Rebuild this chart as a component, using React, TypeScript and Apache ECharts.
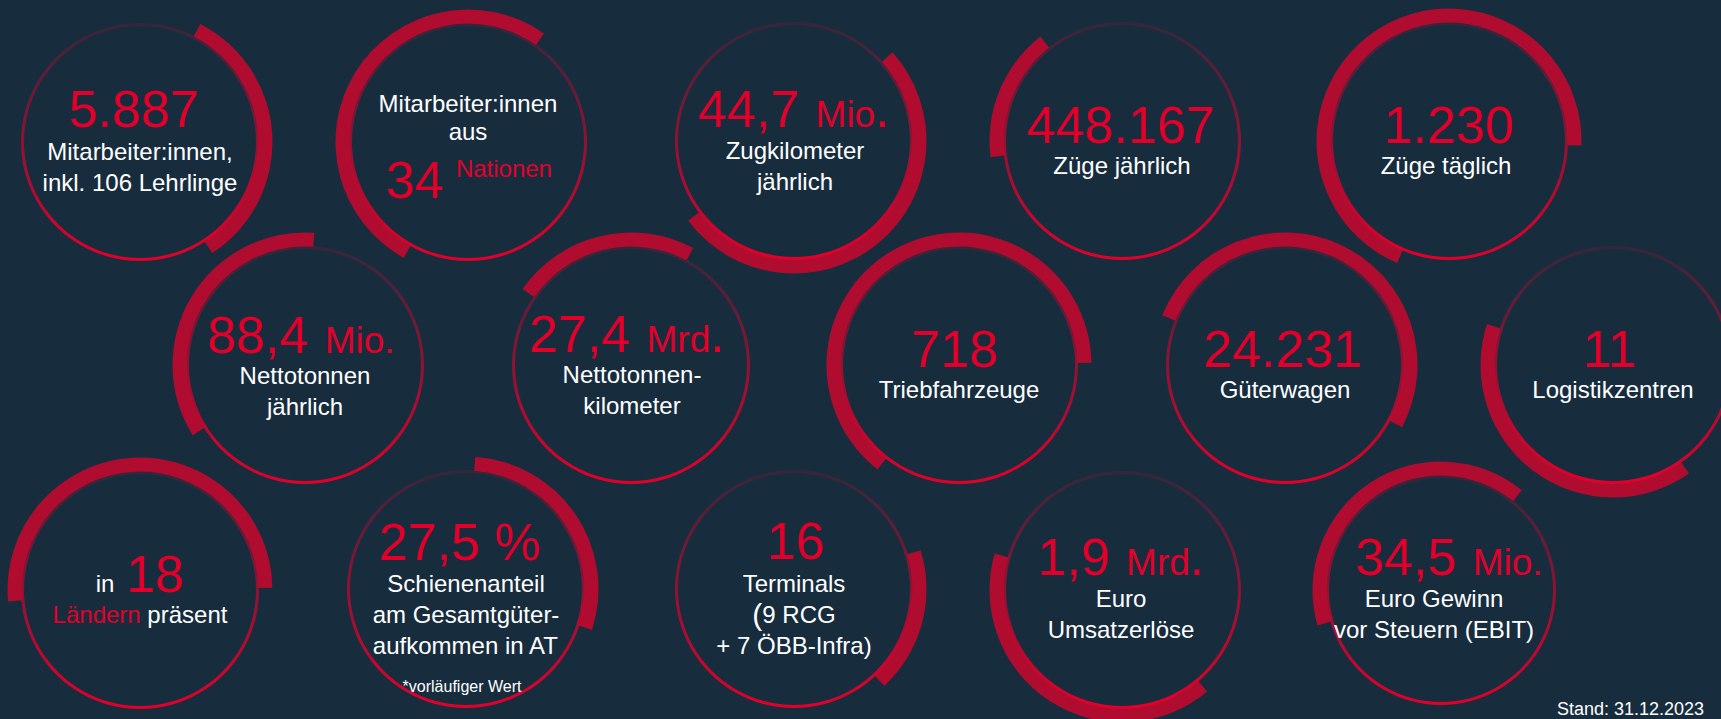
import React, { useEffect, useRef } from "react";
import * as echarts from "echarts";

// ---------- data ----------
const figures = ["5.887", "34", "44,7", "448.167", "1.230", "88,4", "27,4", "718", "24.231", "11", "18", "27,5 %", "16", "1,9", "34,5"];
const units = ["", "Nationen", "Mio.", "", "", "Mio.", "Mrd.", "", "", "", "", "", "", "Mrd.", "Mio."];
const captions: string[][] = [
  ["Mitarbeiter:innen,", "inkl. 106 Lehrlinge"],
  ["Mitarbeiter:innen", "aus"],
  ["Zugkilometer", "jährlich"],
  ["Züge jährlich"],
  ["Züge täglich"],
  ["Nettotonnen", "jährlich"],
  ["Nettotonnen-", "kilometer"],
  ["Triebfahrzeuge"],
  ["Güterwagen"],
  ["Logistikzentren"],
  ["in", "Ländern", "präsent"],
  ["Schienenanteil", "am Gesamtgüter-", "aufkommen in AT"],
  ["Terminals", "(9 RCG", "+ 7 ÖBB-Infra)"],
  ["Euro", "Umsatzerlöse"],
  ["Euro Gewinn", "vor Steuern (EBIT)"],
];
// thick arc: start angle (deg, clockwise from 12 o'clock) and span (deg)
const arcStart = [27, 209, 48, 263, 203, 238, 305, 218, 292, 145, 265, 4, 73, 140, 254];
const arcSpan = [120, 186, 185, 59, 249, 126, 83, 231, 186, 143, 184, 104, 64, 146, 145];
const footnote = "*vorläufiger Wert";
const standText = "Stand: 31.12.2023";

// ---------- layout / style ----------
const centers: [number, number][] = [
  [140, 142], [468, 142], [794, 141], [1122, 141], [1449, 141],
  [305, 365], [631, 365], [959, 365], [1285, 365], [1613, 365],
  [140, 590], [466, 589], [794, 589], [1122, 590], [1441, 590],
];
const radii = [118, 118, 118, 118, 118, 118, 118, 118, 118, 118, 118, 118, 118, 118, 114];
// [numberBaselineDy, numberDx, captionBaselineDy, captionDx, largeDot]
const textLayout: number[][] = [
  [-15, -6, 18, 0, 0],
  [0, 0, 0, 0, 0],
  [-14, 0, 18, 1, 1],
  [2, -1, 33, 0, 0],
  [2, 0, 33, -3, 0],
  [-12, -4, 19, 0, 0],
  [-13, -4, 18, 1, 1],
  [2, -4, 33, 0, 0],
  [2, -2, 33, 0, 0],
  [2, -3, 33, 0, 0],
  [0, 0, 0, 0, 0],
  [-29, -6, 3, 0, 0],
  [-30, 2, 2.5, 0, 0],
  [-15, -1, 17, -1, 1],
  [-15, 8, 17, -7, 0],
];

const BG = "#172D3E";
const RED = "#E2002B";
const ARC = "#B00C2F";
const WHITE = "#FFFFFF";
const FONT = '"Liberation Sans", Arial, Helvetica, sans-serif';
const CAP = 24;
const NUM = 52;
const UNIT = 37;
const STEP = 31;
const GAP = 16;

type Seg = { t: string; size: number; fill: string; base: number; gap?: number; weight?: string };

function makeMeasure() {
  const c = document.createElement("canvas");
  const ctx = c.getContext("2d")!;
  return (t: string, size: number, weight = "normal") => {
    ctx.font = `${weight} ${size}px ${FONT}`;
    return ctx.measureText(t).width;
  };
}

function lineEls(centerX: number, segs: Seg[], measure: (t: string, s: number, w?: string) => number) {
  const widths = segs.map((s) => measure(s.t, s.size, s.weight || "normal"));
  const total = widths.reduce((a, b) => a + b, 0) + segs.reduce((a, s) => a + (s.gap || 0), 0);
  let x = centerX - total / 2;
  return segs.map((s, i) => {
    x += s.gap || 0;
    const el = {
      type: "text",
      x,
      y: s.base - 0.3465 * s.size,
      z: 100,
      silent: true,
      style: {
        text: s.t,
        fill: s.fill,
        fontSize: s.size,
        fontFamily: FONT,
        fontWeight: s.weight || "normal",
        align: "left",
        textAlign: "left",
        verticalAlign: "middle",
        textVerticalAlign: "middle",
      },
    };
    x += widths[i];
    return el;
  });
}

function buildTexts() {
  const measure = makeMeasure();
  const els: any[] = [];
  figures.forEach((fig, i) => {
    const [cx, cy] = centers[i];
    const [nDy, nDx, cDy, cDx, bigDot] = textLayout[i];
    if (i === 1) {
      els.push(...lineEls(cx, [{ t: captions[i][0], size: CAP, fill: WHITE, base: cy - 30 }], measure));
      els.push(...lineEls(cx, [{ t: captions[i][1], size: CAP, fill: WHITE, base: cy - 2 }], measure));
      els.push(
        ...lineEls(cx + 1, [
          { t: fig, size: NUM, fill: RED, base: cy + 56 },
          { t: units[i], size: CAP, fill: RED, base: cy + 35, gap: 12 },
        ], measure)
      );
      return;
    }
    if (i === 10) {
      els.push(
        ...lineEls(cx, [
          { t: captions[i][0], size: CAP, fill: WHITE, base: cy + 2 },
          { t: fig, size: NUM, fill: RED, base: cy + 2, gap: 12 },
        ], measure)
      );
      els.push(
        ...lineEls(cx, [
          { t: captions[i][1], size: CAP, fill: RED, base: cy + 33 },
          { t: " " + captions[i][2], size: CAP, fill: WHITE, base: cy + 33 },
        ], measure)
      );
      return;
    }
    const segs: Seg[] = [{ t: fig, size: NUM, fill: RED, base: cy + nDy }];
    const u = units[i];
    if (u) {
      if (bigDot && u.endsWith(".")) {
        segs.push({ t: u.slice(0, -1), size: UNIT, fill: RED, base: cy + nDy, gap: GAP });
        segs.push({ t: ".", size: NUM, fill: RED, base: cy + nDy });
      } else {
        segs.push({ t: u, size: UNIT, fill: RED, base: cy + nDy, gap: GAP });
      }
    }
    els.push(...lineEls(cx + nDx, segs, measure));
    captions[i].forEach((c, k) => {
      const base = cy + cDy + k * STEP;
      if (c.startsWith("(")) {
        els.push(
          ...lineEls(cx + cDx, [
            { t: "(", size: 30, fill: WHITE, base: base + 2 },
            { t: c.slice(1), size: CAP, fill: WHITE, base },
          ], measure)
        );
      } else {
        els.push(...lineEls(cx + cDx, [{ t: c, size: CAP, fill: WHITE, base }], measure));
      }
    });
    if (i === 11) {
      els.push(...lineEls(cx - 4, [{ t: footnote, size: 16, fill: WHITE, base: cy + 103 }], measure));
    }
  });
  els.push({
    type: "text",
    x: 1557,
    y: 715 - 0.3465 * 18,
    z: 100,
    silent: true,
    style: {
      text: standText,
      fill: WHITE,
      fontSize: 18,
      fontFamily: FONT,
      align: "left",
      textAlign: "left",
      verticalAlign: "middle",
      textVerticalAlign: "middle",
    },
  });
  return els;
}

function buildSeries() {
  const series: any[] = [];
  figures.forEach((_, i) => {
    const [cx, cy] = centers[i];
    const r = radii[i];
    series.push({
      type: "pie",
      silent: true,
      center: [cx, cy],
      radius: [r + 0.5, r + 14.5],
      startAngle: 90 - arcStart[i],
      clockwise: true,
      label: { show: false },
      labelLine: { show: false },
      emphasis: { disabled: true },
      itemStyle: { borderWidth: 0 },
      z: 1,
      data: [
        { value: arcSpan[i], itemStyle: { color: ARC } },
        { value: 360 - arcSpan[i], itemStyle: { color: "rgba(0,0,0,0)" } },
      ],
    });
    series.push({
      type: "pie",
      silent: true,
      center: [cx, cy],
      radius: [r - 2, r + 1],
      startAngle: 90,
      label: { show: false },
      labelLine: { show: false },
      emphasis: { disabled: true },
      itemStyle: { borderWidth: 0 },
      z: 2,
      data: [
        {
          value: 1,
          itemStyle: {
            color: new echarts.graphic.LinearGradient(0, 0, 0, 1, [
              { offset: 0, color: "rgba(226,0,43,0.15)" },
              { offset: 0.45, color: "rgba(226,0,43,0.55)" },
              { offset: 1, color: "rgba(226,0,43,1)" },
            ]),
          },
        },
      ],
    });
  });
  return series;
}

export default function App() {
  const ref = useRef<HTMLDivElement>(null);
  useEffect(() => {
    document.body.style.margin = "0";
    document.body.style.background = BG;
    const chart = echarts.init(ref.current!, undefined, { renderer: "svg" });
    chart.setOption({
      backgroundColor: BG,
      animation: false,
      series: buildSeries(),
      graphic: { elements: buildTexts() },
    });
    return () => chart.dispose();
  }, []);
  return <div ref={ref} style={{ width: 1721, height: 719 }} />;
}
